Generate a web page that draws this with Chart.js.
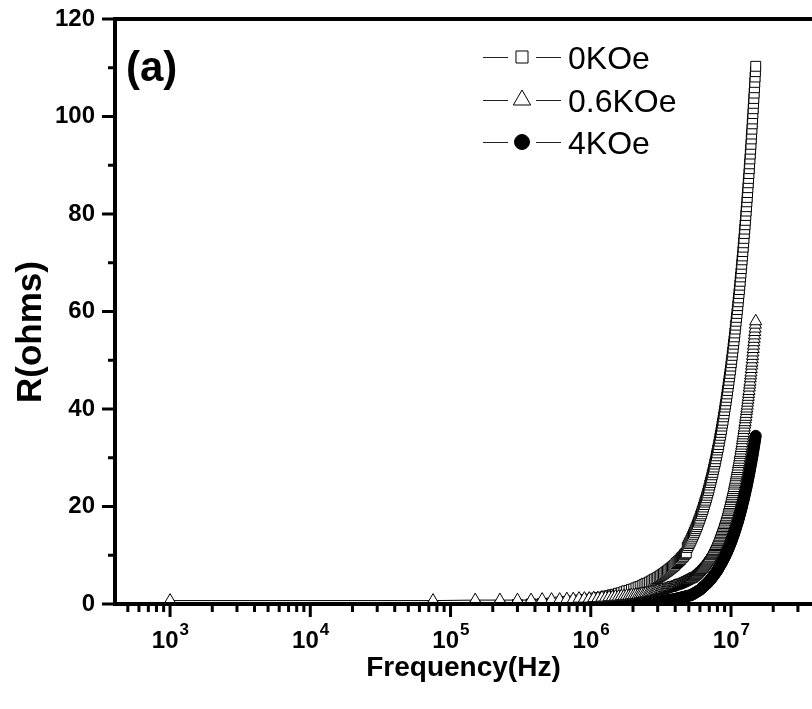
<!DOCTYPE html>
<html>
<head>
<meta charset="utf-8">
<title>R vs Frequency</title>
<script src="https://cdn.jsdelivr.net/npm/chart.js"></script>
<style>
  html, body { margin: 0; padding: 0; background: #fff; overflow: hidden; }
  #wrap { width: 812px; height: 709px; }
  canvas { display: block; }
</style>
</head>
<body>
<div id="wrap"><canvas id="myChart" width="812" height="709"></canvas></div>
<script>
// sweep frequencies, kHz (1 kHz, then 75 kHz steps up to 15 MHz)
const freqKHz = [1,
  75,150,225,300,375,450,525,600,675,750,
  825,900,975,1050,1125,1200,1275,1350,1425,1500,
  1575,1650,1725,1800,1875,1950,2025,2100,2175,2250,
  2325,2400,2475,2550,2625,2700,2775,2850,2925,3000,
  3075,3150,3225,3300,3375,3450,3525,3600,3675,3750,
  3825,3900,3975,4050,4125,4200,4275,4350,4425,4500,
  4575,4650,4725,4800,4875,4950,5025,5100,5175,5250,
  5325,5400,5475,5550,5625,5700,5775,5850,5925,6000,
  6075,6150,6225,6300,6375,6450,6525,6600,6675,6750,
  6825,6900,6975,7050,7125,7200,7275,7350,7425,7500,
  7575,7650,7725,7800,7875,7950,8025,8100,8175,8250,
  8325,8400,8475,8550,8625,8700,8775,8850,8925,9000,
  9075,9150,9225,9300,9375,9450,9525,9600,9675,9750,
  9825,9900,9975,10050,10125,10200,10275,10350,10425,10500,
  10575,10650,10725,10800,10875,10950,11025,11100,11175,11250,
  11325,11400,11475,11550,11625,11700,11775,11850,11925,12000,
  12075,12150,12225,12300,12375,12450,12525,12600,12675,12750,
  12825,12900,12975,13050,13125,13200,13275,13350,13425,13500,
  13575,13650,13725,13800,13875,13950,14025,14100,14175,14250,
  14325,14400,14475,14550,14625,14700,14775,14850,14925,15000];

// R (ohms), 0 KOe
const r0KOe = [-0.6,
  -0.5,-0.4,-0.3,-0.1,0.0,0.1,0.2,0.4,0.5,0.6,
  0.8,0.9,1.0,1.2,1.3,1.4,1.6,1.7,1.9,2.0,
  2.2,2.3,2.5,2.7,2.8,3.0,3.1,3.3,3.5,3.6,
  3.8,4.0,4.2,4.3,4.5,4.7,4.9,5.1,5.2,5.4,
  5.6,5.8,6.0,6.2,6.4,6.6,6.8,7.0,7.2,7.4,
  7.6,7.8,8.0,8.3,8.5,8.7,8.9,9.1,9.4,9.6,
  9.8,10.1,10.3,10.5,11.6,12.0,12.4,12.7,13.1,13.5,
  13.9,14.3,14.7,15.1,15.5,15.9,16.3,16.8,17.2,17.6,
  18.1,18.5,19.0,19.4,19.9,20.4,20.9,21.3,21.8,22.3,
  22.8,23.3,23.8,24.4,24.9,25.4,25.9,26.5,27.0,27.6,
  28.1,28.7,29.2,29.8,30.4,31.0,31.6,32.1,32.7,33.4,
  34.0,34.6,35.2,35.8,36.5,37.1,37.7,38.4,39.0,39.7,
  40.4,41.0,41.7,42.4,43.1,43.8,44.5,45.2,45.9,46.6,
  47.3,48.0,48.8,49.5,50.2,51.0,51.7,52.5,53.3,54.0,
  54.8,55.6,56.4,57.2,58.0,58.8,59.6,60.4,61.2,62.0,
  62.8,63.7,64.5,65.4,66.2,67.1,67.9,68.8,69.7,70.6,
  71.4,72.3,73.2,74.1,75.0,76.0,76.9,77.8,78.7,79.7,
  80.6,81.5,82.5,83.4,84.4,85.4,86.4,87.3,88.3,89.3,
  90.3,91.3,92.3,93.3,94.3,95.4,96.4,97.4,98.5,99.5,
  100.6,101.6,102.7,103.7,104.8,105.9,107.0,108.1,109.2,110.3];

// R (ohms), 0.6 KOe
const r06KOe = [0.7,
  0.7,0.8,0.8,0.8,0.8,0.9,0.9,0.9,1.0,1.0,
  1.1,1.1,1.1,1.2,1.2,1.3,1.3,1.4,1.4,1.5,
  1.5,1.6,1.6,1.7,1.7,1.8,1.8,1.9,1.9,2.0,
  2.1,2.1,2.2,2.2,2.3,2.4,2.4,2.5,2.6,2.7,
  2.7,2.8,2.9,2.9,3.0,3.1,3.2,3.3,3.3,3.4,
  3.5,3.6,3.7,3.8,3.8,3.9,4.0,4.1,4.2,4.3,
  4.4,4.5,4.6,4.7,4.8,4.9,5.0,5.1,5.1,5.2,
  5.4,5.5,5.7,5.8,6.0,6.1,6.3,6.5,6.6,6.8,
  7.0,7.1,7.3,7.5,7.7,7.9,8.1,8.3,8.5,8.7,
  8.9,9.1,9.3,9.5,9.8,10.0,10.2,10.4,10.7,10.9,
  11.2,11.4,11.7,11.9,12.2,12.4,12.7,13.0,13.2,13.5,
  13.8,14.1,14.4,14.7,15.0,15.3,15.6,15.9,16.2,16.5,
  16.9,17.2,17.5,17.8,18.2,18.5,18.9,19.2,19.6,20.0,
  20.3,20.7,21.1,21.5,21.8,22.2,22.6,23.0,23.4,23.8,
  24.3,24.7,25.1,25.5,26.0,26.4,26.8,27.3,27.7,28.2,
  28.7,29.1,29.6,30.1,30.6,31.0,31.5,32.0,32.5,33.0,
  33.6,34.1,34.6,35.1,35.7,36.2,36.8,37.3,37.9,38.4,
  39.0,39.6,40.1,40.7,41.3,41.9,42.5,43.1,43.7,44.4,
  45.0,45.6,46.3,46.9,47.5,48.2,48.9,49.5,50.2,50.9,
  51.6,52.3,53.0,53.7,54.4,55.1,55.8,56.5,57.3,58.0];

// R (ohms), 4 KOe
const r4KOe = [-0.8,
  -0.8,-0.8,-0.7,-0.7,-0.7,-0.7,-0.6,-0.6,-0.6,-0.6,
  -0.5,-0.5,-0.5,-0.4,-0.4,-0.4,-0.4,-0.3,-0.3,-0.3,
  -0.2,-0.2,-0.2,-0.1,-0.1,-0.1,0.0,0.0,0.0,0.1,
  0.1,0.2,0.2,0.2,0.3,0.3,0.3,0.4,0.4,0.5,
  0.5,0.5,0.6,0.6,0.7,0.7,0.8,0.8,0.8,0.9,
  0.9,1.0,1.0,1.1,1.1,1.2,1.2,1.3,1.3,1.4,
  1.4,1.5,1.5,1.6,1.6,1.7,1.7,1.8,1.8,1.9,
  2.0,2.1,2.2,2.3,2.4,2.5,2.6,2.7,2.8,2.9,
  3.0,3.2,3.3,3.4,3.6,3.7,3.8,4.0,4.1,4.2,
  4.4,4.5,4.7,4.8,5.0,5.1,5.3,5.5,5.6,5.8,
  6.0,6.1,6.3,6.5,6.6,6.8,7.0,7.2,7.4,7.6,
  7.8,8.0,8.2,8.4,8.6,8.8,9.0,9.2,9.4,9.6,
  9.8,10.0,10.3,10.5,10.7,10.9,11.2,11.4,11.6,11.9,
  12.1,12.4,12.6,12.8,13.1,13.3,13.6,13.9,14.1,14.4,
  14.6,14.9,15.2,15.5,15.7,16.0,16.3,16.6,16.8,17.1,
  17.4,17.7,18.0,18.3,18.6,18.9,19.2,19.5,19.8,20.1,
  20.4,20.8,21.1,21.4,21.7,22.0,22.4,22.7,23.0,23.4,
  23.7,24.0,24.4,24.7,25.1,25.4,25.8,26.1,26.5,26.8,
  27.2,27.6,27.9,28.3,28.7,29.0,29.4,29.8,30.2,30.5,
  30.9,31.3,31.7,32.1,32.5,32.9,33.3,33.7,34.1,34.5];

const seriesLabels = ["0KOe", "0.6KOe", "4KOe"];
const yTickValues = [0, 20, 40, 60, 80, 100, 120];
const xTickExponents = [3, 4, 5, 6, 7];
const panelLabel = "(a)";
const yTitle = "R(ohms)";

const FONT = "'Liberation Sans', Arial, Helvetica, sans-serif";

const toPoints = (ys) => freqKHz.map((f, i) => ({ x: f * 1000, y: ys[i] }));

// axes frame, ticks, decade labels, y title, legend and panel label
const framePlugin = {
  id: "frame",
  afterDatasetsDraw(chart) {
    const { ctx, chartArea: a, scales: { x, y } } = chart;
    ctx.save();
    ctx.strokeStyle = "#000";
    ctx.fillStyle = "#000";
    ctx.lineCap = "butt";

    // x ticks (1..9 x 10^n)
    ctx.lineWidth = 3;
    x.ticks.forEach((t) => {
      const e = Math.floor(Math.log10(t.value) + 1e-9);
      const m = t.value / Math.pow(10, e);
      if (Math.abs(m - Math.round(m)) > 1e-6) return;
      const px = x.getPixelForValue(t.value);
      if (px < a.left || px > a.right) return;
      const len = Math.round(m) === 1 ? 13 : 8;
      ctx.beginPath();
      ctx.moveTo(px, a.bottom);
      ctx.lineTo(px, a.bottom + len);
      ctx.stroke();
    });

    // y ticks, major + minor halfway
    yTickValues.forEach((v, i) => {
      const py = y.getPixelForValue(v);
      ctx.beginPath();
      ctx.moveTo(a.left, py);
      ctx.lineTo(a.left - 13, py);
      ctx.stroke();
      if (i < yTickValues.length - 1) {
        const pm = y.getPixelForValue((v + yTickValues[i + 1]) / 2);
        ctx.beginPath();
        ctx.moveTo(a.left, pm);
        ctx.lineTo(a.left - 7, pm);
        ctx.stroke();
      }
    });

    // axis lines
    ctx.lineWidth = 4;
    ctx.beginPath();
    ctx.moveTo(a.left - 2, a.bottom);
    ctx.lineTo(a.right, a.bottom);
    ctx.moveTo(a.left, a.bottom + 2);
    ctx.lineTo(a.left, a.top - 2);
    ctx.moveTo(a.left - 2, a.top);
    ctx.lineTo(a.right, a.top);
    ctx.stroke();

    // decade labels 10^n
    xTickExponents.forEach((n) => {
      const px = x.getPixelForValue(Math.pow(10, n));
      ctx.font = "bold 24px " + FONT;
      ctx.textAlign = "right";
      ctx.textBaseline = "alphabetic";
      ctx.fillText("10", px + 8.5, a.bottom + 44);
      ctx.font = "bold 17px " + FONT;
      ctx.textAlign = "left";
      ctx.fillText(String(n), px + 9.5, a.bottom + 31);
    });

    // y axis title, rotated
    ctx.save();
    ctx.translate(31, 332);
    ctx.rotate(-Math.PI / 2);
    ctx.font = "bold 35px " + FONT;
    ctx.textAlign = "center";
    ctx.textBaseline = "middle";
    ctx.fillText(yTitle, 0, 0);
    ctx.restore();

    // panel label
    ctx.font = "bold 42px " + FONT;
    ctx.textAlign = "left";
    ctx.textBaseline = "alphabetic";
    ctx.fillText(panelLabel, a.left + 11, 81);

    // legend: line - marker - line  label
    const rows = [57, 100, 142];
    const sizes = [8.5, 10, 7.5];
    chart.data.datasets.forEach((ds, i) => {
      const ry = rows[i];
      ctx.strokeStyle = "#222";
      ctx.lineWidth = 1;
      ctx.beginPath();
      ctx.moveTo(483, ry + 0.5);
      ctx.lineTo(508, ry + 0.5);
      ctx.moveTo(536, ry + 0.5);
      ctx.lineTo(561, ry + 0.5);
      ctx.stroke();
      ctx.strokeStyle = "#000";
      ctx.fillStyle = ds.pointBackgroundColor;
      ctx.lineWidth = 1;
      Chart.helpers.drawPoint(ctx, {
        pointStyle: ds.pointStyle, radius: sizes[i], rotation: 0, borderWidth: 1
      }, 522, ry);
      ctx.fillStyle = "#000";
      ctx.font = "32px " + FONT;
      ctx.fillText(ds.label, 568, ry + 11.5);
    });
    ctx.restore();
  }
};

const common = {
  borderColor: "#000",
  borderWidth: 1,
  pointBorderColor: "#000",
  pointBorderWidth: 1,
  tension: 0,
  fill: false
};

new Chart(document.getElementById("myChart"), {
  type: "line",
  data: {
    datasets: [
      { ...common, label: seriesLabels[0], data: toPoints(r0KOe),
        pointStyle: "rect", pointRadius: 7, pointHoverRadius: 7,
        pointBackgroundColor: "#fff", order: 1 },
      { ...common, label: seriesLabels[1], data: toPoints(r06KOe),
        pointStyle: "triangle", pointRadius: 7, pointHoverRadius: 7,
        pointBackgroundColor: "#fff", order: 0 },
      { ...common, label: seriesLabels[2], data: toPoints(r4KOe),
        pointStyle: "circle", pointRadius: 5.5, pointHoverRadius: 5.5,
        pointBackgroundColor: "#000", order: 2 }
    ]
  },
  options: {
    responsive: false,
    animation: false,
    layout: { autoPadding: false, padding: { top: 19, right: 0, bottom: 0, left: 0 } },
    plugins: {
      legend: { display: false },
      tooltip: { enabled: false }
    },
    scales: {
      x: {
        type: "logarithmic",
        min: 405,
        max: 3.78e7,
        afterFit: (s) => { s.height = 105; s.paddingLeft = 0; s.paddingRight = 0; },
        grid: { display: false, drawTicks: false },
        border: { display: false },
        ticks: { display: false, autoSkip: false },
        title: {
          display: true,
          text: "Frequency(Hz)",
          color: "#000",
          font: { family: FONT, size: 28, weight: "bold" },
          padding: { top: 0, bottom: 24 }
        }
      },
      y: {
        min: 0,
        max: 120,
        afterBuildTicks: (s) => { s.ticks = yTickValues.map((v) => ({ value: v })); },
        afterFit: (s) => { s.width = 115; s.paddingTop = 0; s.paddingBottom = 0; },
        grid: { display: false, drawTicks: false },
        border: { display: false },
        ticks: {
          color: "#000",
          padding: 20,
          font: { family: FONT, size: 24, weight: "bold" }
        },
        title: { display: false }
      }
    }
  },
  plugins: [framePlugin]
});
</script>
</body>
</html>
